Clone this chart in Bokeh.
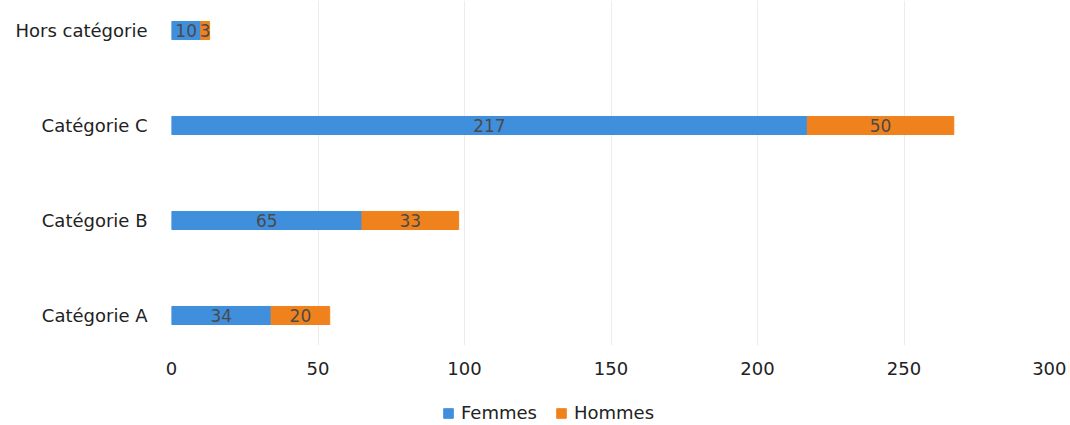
from bokeh.plotting import figure
from bokeh.layouts import column
from bokeh.models import Range1d, FixedTicker, Legend, LegendItem, ColumnDataSource
from bokeh.core.properties import value
from bokeh.embed import file_html
from bokeh.resources import INLINE

categories = ["Catégorie A", "Catégorie B", "Catégorie C", "Hors catégorie"]
femmes = [34, 65, 217, 10]
hommes = [20, 33, 50, 3]
x_ticks = [0, 50, 100, 150, 200, 250, 300]
series_names = ["Femmes", "Hommes"]

BLUE = "#3f8fdc"
ORANGE = "#f0821e"
TXT = "#4a4a4a"
FONT = "DejaVu Sans"

ypos = list(range(len(categories)))
tot = [f + h for f, h in zip(femmes, hommes)]

src = ColumnDataSource(dict(
    y=ypos, f=femmes, h=hommes, tot=tot,
    fmid=[f / 2 for f in femmes],
    hmid=[f + h / 2 for f, h in zip(femmes, hommes)],
    flab=[str(v) for v in femmes],
    hlab=[str(v) for v in hommes],
))

p = figure(width=1066, height=390, output_backend="svg", toolbar_location=None,
           x_range=Range1d(0, 300), y_range=Range1d(-0.316, 3.316),
           min_border_left=171, min_border_right=16, min_border_top=0,
           min_border_bottom=45)
p.outline_line_color = None
p.background_fill_color = "white"

p.hbar(y="y", left=0, right="f", height=0.19, color=BLUE, source=src)
p.hbar(y="y", left="f", right="tot", height=0.19, color=ORANGE, source=src)

p.text(x="fmid", y="y", text="flab", source=src, text_align="center",
       text_baseline="middle", text_color=TXT, text_font=value(FONT),
       text_font_size="17px")
p.text(x="hmid", y="y", text="hlab", source=src, text_align="center",
       text_baseline="middle", text_color=TXT, text_font=value(FONT),
       text_font_size="17px")

p.xaxis.ticker = FixedTicker(ticks=x_ticks)
p.yaxis.ticker = FixedTicker(ticks=ypos)
p.yaxis.major_label_overrides = {i: c for i, c in enumerate(categories)}
for ax in (p.xaxis[0], p.yaxis[0]):
    ax.axis_line_color = None
    ax.major_tick_line_color = None
    ax.minor_tick_line_color = None
    ax.major_label_text_font = FONT
    ax.major_label_text_font_size = "18px"
    ax.major_label_text_color = "#222222"
p.xaxis.major_label_standoff = 10
p.yaxis.major_label_standoff = 18

p.xgrid.grid_line_color = "#ececec"
p.ygrid.grid_line_color = None

# legend strip (legend keys only; proxy glyphs sit outside the visible range)
lg = figure(width=1066, height=34, output_backend="svg", toolbar_location=None,
            x_range=Range1d(0, 1), y_range=Range1d(0, 1),
            min_border=0, x_axis_type=None, y_axis_type=None)
lg.outline_line_color = None
lg.xgrid.visible = False
lg.ygrid.visible = False
proxy = ColumnDataSource(dict(x=[-5], y=[-5]))
r1 = lg.vbar(x="x", top="y", bottom="y", width=0.01, color=BLUE, source=proxy)
r2 = lg.vbar(x="x", top="y", bottom="y", width=0.01, color=ORANGE, source=proxy)

legend = Legend(items=[LegendItem(label=series_names[0], renderers=[r1]),
                       LegendItem(label=series_names[1], renderers=[r2])],
                orientation="horizontal", location=(271, 1),
                padding=0, margin=0, spacing=18,
                glyph_width=12, glyph_height=12, label_standoff=7,
                label_text_font=FONT, label_text_font_size="18px",
                label_text_color="#222222", label_height=18,
                border_line_color=None, background_fill_alpha=0)
lg.add_layout(legend, "center")

layout = column(p, lg, spacing=0)
open("out.html", "w").write(file_html(layout, INLINE))
